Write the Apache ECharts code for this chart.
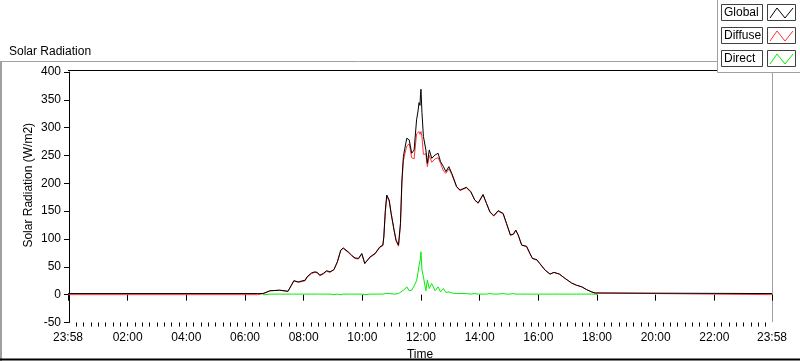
<!DOCTYPE html>
<html>
<head>
<meta charset="utf-8">
<script src="https://cdn.jsdelivr.net/npm/echarts@6/dist/echarts.min.js"></script>
<style>
  html, body { margin: 0; padding: 0; background: #fff; }
  #chart { width: 800px; height: 361px; }
</style>
</head>
<body>
<div id="chart"></div>
<script>
// time in minutes from 00:00 (-2 = 23:58 of the day before, 1438 = 23:58)
const times = [
  -2, 386, 388, 397, 403, 411, 431, 448, 455, 460, 469, 483, 487, 496, 503, 508, 513, 520, 527, 534,
  542, 546, 549, 556, 561, 565, 571, 578, 585, 592, 599, 605, 616, 626, 636, 642, 644, 647, 650, 655,
  659, 665, 669, 674, 678, 681, 684, 687, 691, 696, 701, 706, 711, 714, 716, 718, 719, 720, 722, 725,
  730, 733, 737, 742, 749, 755, 760, 766, 771, 777, 783, 793, 800, 813, 822, 830, 837, 847, 854, 861,
  869, 878, 888, 895, 903, 909, 914, 919, 926, 936, 943, 948, 957, 963, 974, 984, 992, 1003, 1015, 1028,
  1038, 1049, 1059, 1069, 1076, 1079, 1080, 1438
];
const globalVals = [
  2, 2, 2, 2, 4, 7, 8, 6, 17, 25, 23, 26, 32, 39, 41, 40, 35, 38, 43, 41,
  45, 53, 59, 80, 84, 86, 77, 71, 66, 65, 74, 56, 68, 74, 86, 89, 104, 150, 179, 170,
  146, 116, 98, 89, 128, 206, 248, 263, 281, 278, 254, 260, 314, 330, 345, 340, 360, 369, 327, 284,
  260, 236, 260, 245, 251, 254, 239, 230, 221, 230, 218, 194, 188, 193, 185, 170, 165, 180, 164, 149,
  142, 151, 146, 128, 107, 109, 116, 107, 89, 87, 74, 65, 63, 56, 44, 37, 40, 37, 29, 21,
  17, 14, 9, 5, 3, 2, 2, 2
];
const diffuseVals = [
  0, 0, 2, 2, 4, 7, 8, 6, 17, 25, 22, 25, 31, 38, 40, 39, 34, 37, 42, 40,
  45, 53, 59, 80, 83, 84, 76, 70, 65, 64, 73, 56, 67, 73, 85, 88, 103, 148, 176, 168,
  145, 115, 97, 87, 124, 200, 240, 253, 267, 271, 246, 244, 289, 290, 293, 288, 290, 293, 283, 252,
  253, 230, 250, 238, 244, 246, 236, 222, 218, 226, 216, 193, 187, 192, 184, 170, 164, 179, 164, 148,
  141, 150, 145, 127, 107, 108, 115, 106, 89, 86, 73, 65, 62, 56, 44, 37, 40, 37, 29, 21,
  17, 14, 9, 5, 3, 2, 0, 0
];
const directVals = [
  null, null, null, 0, 0, 1, 1, 1, 1, 1, 1, 1, 1, 1, 1, 1, 1, 1, 1, 1,
  0, 0, 1, 0, 1, 2, 1, 1, 1, 1, 1, 0, 1, 1, 1, 1, 1, 2, 3, 2,
  1, 1, 1, 2, 4, 6, 8, 10, 14, 7, 8, 16, 25, 40, 52, 50, 65, 77, 44, 32,
  7, 26, 11, 20, 7, 14, 5, 11, 4, 5, 3, 2, 2, 2, 1, 2, 1, 1, 1, 2,
  1, 1, 2, 1, 1, 2, 1, 1, 1, 1, 1, 1, 1, 1, 1, 1, 1, 1, 1, 1,
  1, 1, 1, 1, 1, 1, 0, null
];
const tickMinutes = [-2, 120, 240, 360, 480, 600, 720, 840, 960, 1080, 1200, 1320, 1438];
const tickLabels = ['23:58', '02:00', '04:00', '06:00', '08:00', '10:00', '12:00', '14:00', '16:00', '18:00', '20:00', '22:00', '23:58'];
const legendNames = ['Global', 'Diffuse', 'Direct'];
const legendColors = ['#000000', '#ff3333', '#00ee00'];

const minorTicks = [];
for (let m = 15; m < 1438; m += 15) minorTicks.push(m);

function pairs(vals) {
  return times.map((t, i) => [t, vals[i] === null ? '-' : vals[i]]);
}

const font = 'Liberation Sans';
const chart = echarts.init(document.getElementById('chart'));

const graphics = [
  { type: 'line', shape: { x1: 0, y1: 61.5, x2: 717, y2: 61.5 }, style: { stroke: '#a0a0a0', lineWidth: 1 } },
  { type: 'line', shape: { x1: 1, y1: 61, x2: 1, y2: 361 }, style: { stroke: '#a0a0a0', lineWidth: 2 } },
  { type: 'line', shape: { x1: 0, y1: 359.5, x2: 800, y2: 359.5 }, style: { stroke: '#000', lineWidth: 2 } },
  { type: 'line', shape: { x1: 68, y1: 70.5, x2: 772, y2: 70.5 }, style: { stroke: '#000', lineWidth: 1 } },
  { type: 'line', shape: { x1: 772.5, y1: 70, x2: 772.5, y2: 322 }, style: { stroke: '#a0a0a0', lineWidth: 1 } },
  { type: 'rect', shape: { x: 717.5, y: -1, width: 83, height: 73.5 }, style: { fill: '#fff', stroke: '#a0a0a0', lineWidth: 1 }, z: 10 }
];
legendNames.forEach((name, i) => {
  const top = 4 + i * 23;
  graphics.push(
    { type: 'rect', shape: { x: 721.5, y: top + 0.5, width: 41, height: 16 }, style: { fill: '#fff', stroke: '#404040', lineWidth: 1 }, z: 11 },
    { type: 'text', x: 724, y: top + 9, style: { text: name, fill: '#000', font: '12px ' + font, verticalAlign: 'middle' }, z: 12 },
    { type: 'rect', shape: { x: 767.5, y: top + 0.5, width: 28, height: 16 }, style: { fill: '#fff', stroke: '#404040', lineWidth: 1 }, z: 11 },
    { type: 'polyline', shape: { points: [[770, top + 14], [777, top + 4], [785, top + 14], [793, top + 4]] }, style: { stroke: legendColors[i], lineWidth: 1, fill: null }, z: 12 }
  );
});

chart.setOption({
  animation: false,
  backgroundColor: '#fff',
  textStyle: { fontFamily: font },
  title: {
    text: 'Solar Radiation',
    left: 4, top: 41,
    textStyle: { fontSize: 12, fontWeight: 'normal', color: '#000', fontFamily: font }
  },
  grid: { left: 68, right: 28, top: 72, bottom: 38.5, containLabel: false, outerBoundsMode: 'none' },
  xAxis: [
    {
      type: 'value', min: -2, max: 1438,
      name: 'Time', nameLocation: 'middle', nameGap: 24,
      nameTextStyle: { fontSize: 12, color: '#000', fontFamily: font },
      axisLine: { show: false },
      axisTick: { show: true, customValues: tickMinutes, length: 6, lineStyle: { color: '#000' } },
      axisLabel: {
        customValues: tickMinutes, margin: 9, fontSize: 12, color: '#000', fontFamily: font,
        formatter: v => tickLabels[tickMinutes.indexOf(v)]
      },
      splitLine: { show: false }
    },
    {
      type: 'value', min: -2, max: 1438, position: 'bottom',
      axisLine: { show: false },
      axisTick: { show: true, customValues: minorTicks, length: 4, lineStyle: { color: '#000' } },
      axisLabel: { show: false },
      splitLine: { show: false }
    }
  ],
  yAxis: {
    type: 'value', min: -50, max: 400, interval: 50,
    name: 'Solar Radiation (W/m2)', nameLocation: 'middle', nameGap: 33, nameMoveOverlap: false,
    nameTextStyle: { fontSize: 12, color: '#000', fontFamily: font, padding: [0, 0, 0, 24] },
    axisLine: { show: true, lineStyle: { color: '#000' } },
    axisTick: { show: true, length: 5, lineStyle: { color: '#000' } },
    axisLabel: { margin: 7, fontSize: 12, color: '#000', fontFamily: font },
    splitLine: { show: false }
  },
  series: [
    { name: 'Direct', type: 'line', data: pairs(directVals), showSymbol: false, lineStyle: { color: legendColors[2], width: 1 }, itemStyle: { color: legendColors[2] } },
    { name: 'Diffuse', type: 'line', data: pairs(diffuseVals), showSymbol: false, lineStyle: { color: legendColors[1], width: 1 }, itemStyle: { color: legendColors[1] } },
    { name: 'Global', type: 'line', data: pairs(globalVals), showSymbol: false, lineStyle: { color: legendColors[0], width: 1 }, itemStyle: { color: legendColors[0] } }
  ],
  graphic: graphics
});
</script>
</body>
</html>
